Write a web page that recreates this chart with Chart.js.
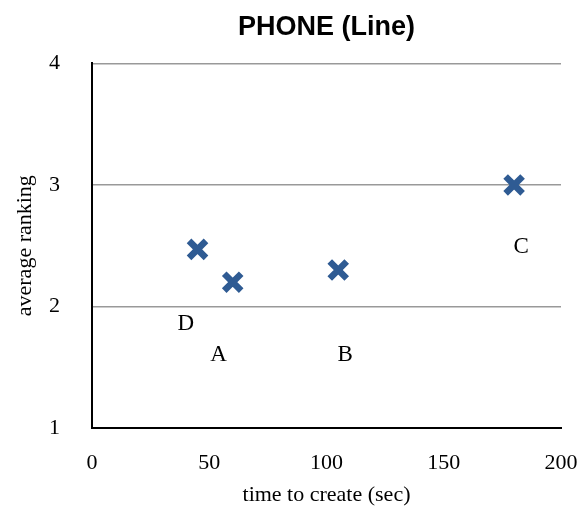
<!DOCTYPE html>
<html>
<head>
  <title>PHONE (Line)</title>
  <style>
    body { margin: 0; background: #fff; }
    #wrap { width: 587px; height: 508px; }
  </style>
</head>
<body>
  <div id="wrap"><canvas id="chart"></canvas></div>
  <script src="https://cdn.jsdelivr.net/npm/chart.js"></script>
  <script>
    // points
    const names = ["D", "A", "B", "C"];
    const times = [45, 60, 105, 180];
    const rankings = [2.47, 2.2, 2.3, 3.0];
    // where each letter label sits (data units)
    const labelTimes = [40, 54, 108, 183];
    const labelRanks = [1.86, 1.6, 1.6, 2.49];

    const serif = "'Liberation Serif', 'Times New Roman', serif";

    // draw the letter labels next to the points
    const letterLabels = {
      id: "letterLabels",
      afterDatasetsDraw(chart) {
        const { ctx, scales } = chart;
        ctx.save();
        ctx.font = "23px " + serif;
        ctx.fillStyle = "#000";
        ctx.textAlign = "center";
        ctx.textBaseline = "middle";
        names.forEach((n, i) => {
          ctx.fillText(n, scales.x.getPixelForValue(labelTimes[i]), scales.y.getPixelForValue(labelRanks[i]));
        });
        ctx.restore();
      }
    };

    new Chart(document.getElementById("chart"), {
      type: "scatter",
      data: {
        datasets: [{
          label: "PHONE",
          data: times.map((t, i) => ({ x: t, y: rankings[i] })),
          pointStyle: "crossRot",
          pointRadius: 12,
          pointHoverRadius: 12,
          borderWidth: 6.5,
          pointBorderWidth: 6.5,
          borderColor: "#2f5b93",
          backgroundColor: "#2f5b93"
        }]
      },
      options: {
        responsive: true,
        maintainAspectRatio: false,
        animation: false,
        layout: { padding: { left: 0, right: 0, top: 0, bottom: 0 } },
        plugins: {
          legend: { display: false },
          tooltip: { enabled: false },
          title: {
            display: true,
            fullSize: false,
            text: "PHONE (Line)",
            color: "#000",
            font: { family: "'Liberation Sans', Arial, sans-serif", size: 27, weight: "bold" },
            padding: { top: 11, bottom: 20 }
          }
        },
        scales: {
          x: {
            type: "linear",
            min: 0,
            max: 200,
            afterFit(s) { s.height = 80; s.paddingRight = 26; s.paddingLeft = 0; },
            ticks: { stepSize: 50, color: "#000", padding: 22, font: { family: serif, size: 22 } },
            grid: { display: false, drawTicks: false },
            border: { display: true, color: "#000", width: 2 },
            title: {
              display: true,
              text: "time to create (sec)",
              color: "#000",
              font: { family: serif, size: 22 },
              padding: { top: 4, bottom: 0 }
            }
          },
          y: {
            type: "linear",
            min: 1,
            max: 4,
            afterFit(s) { s.width = 92; },
            ticks: { stepSize: 1, color: "#000", padding: 32, font: { family: serif, size: 22 } },
            grid: { color: "#999", lineWidth: 1.5, drawTicks: false },
            border: { display: true, color: "#000", width: 2 },
            title: {
              display: true,
              text: "average ranking",
              color: "#000",
              font: { family: serif, size: 22 },
              padding: { top: 12, bottom: 0 }
            }
          }
        }
      },
      plugins: [letterLabels]
    });
  </script>
</body>
</html>
